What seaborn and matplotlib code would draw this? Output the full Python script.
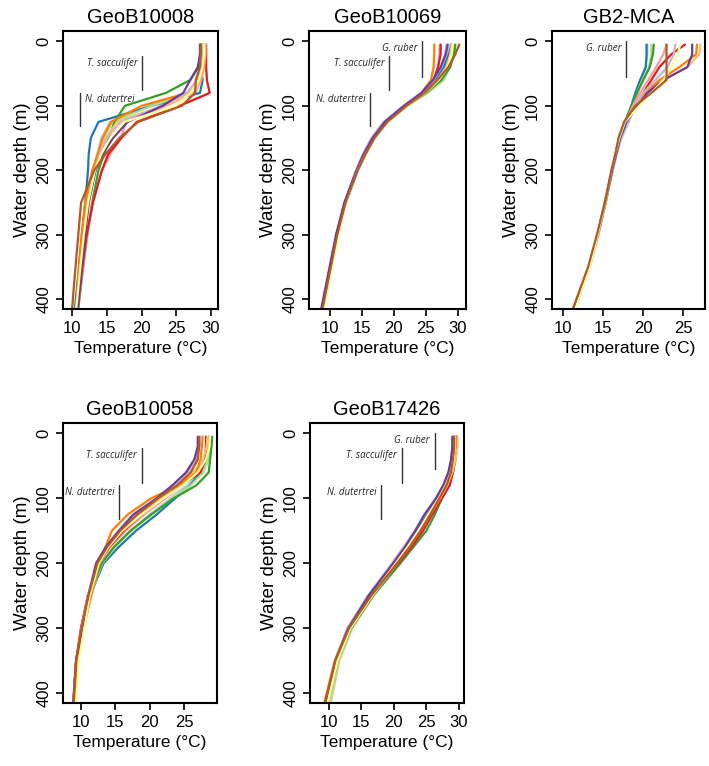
import pandas as pd
import matplotlib.pyplot as plt
import seaborn as sns

# Depth levels (m) at which the temperature profiles were read
depths = [5, 20, 40, 60, 80, 100, 125, 150, 175, 200, 250, 300, 350, 415]
months = ['Jan', 'Feb', 'Mar', 'Apr', 'May', 'Jun',
          'Jul', 'Aug', 'Sep', 'Oct', 'Nov', 'Dec']

# Monthly temperature profiles (deg C), one row per month
geob10008 = [
    [28.8, 28.8, 28.7, 28.5, 27.8, 21.0, 15.5, 14.2, 13.6, 13.0, 12.2, 11.6, 11.2, 10.6],
    [28.5, 28.5, 28.5, 28.8, 28.4, 21.5, 13.8, 12.7, 12.4, 12.3, 11.9, 11.4, 11.0, 10.4],
    [28.6, 28.6, 28.5, 28.2, 27.0, 21.5, 15.8, 14.5, 13.8, 13.2, 12.3, 11.8, 11.4, 10.8],
    [28.7, 28.6, 28.2, 27.0, 23.5, 17.6, 16.1, 15.3, 14.6, 13.8, 12.9, 12.2, 11.6, 10.9],
    [29.0, 29.0, 28.9, 28.6, 27.5, 23.5, 17.8, 17.0, 15.5, 14.3, 13.0, 12.2, 11.6, 10.8],
    [29.3, 29.3, 29.3, 29.4, 29.8, 25.5, 19.3, 17.1, 15.2, 14.3, 13.0, 12.1, 11.5, 10.8],
    [29.2, 29.2, 29.0, 28.5, 27.5, 23.0, 16.5, 14.8, 13.9, 13.2, 12.2, 11.6, 11.1, 10.6],
    [29.0, 29.0, 28.9, 28.4, 26.6, 20.0, 15.6, 14.4, 13.7, 12.9, 11.9, 11.4, 11.0, 10.6],
    [28.8, 28.8, 28.6, 28.0, 26.5, 23.0, 17.0, 15.0, 14.0, 13.3, 12.4, 11.8, 11.3, 10.7],
    [28.4, 28.4, 28.1, 27.0, 26.0, 23.0, 18.0, 15.9, 14.4, 13.4, 12.4, 11.9, 11.4, 10.8],
    [29.0, 29.0, 28.8, 28.3, 27.0, 25.0, 17.5, 15.5, 14.2, 13.3, 12.3, 11.7, 11.2, 10.6],
    [28.5, 28.5, 28.4, 27.8, 27.7, 25.8, 19.5, 16.8, 14.8, 13.2, 11.3, 10.9, 10.5, 10.0],
]
geob10069 = [
    [28.8, 28.4, 27.6, 26.4, 24.7, 22.0, 19.0, 17.0, 15.6, 14.4, 12.6, 11.3, 10.3, 9.0],
    [29.0, 28.6, 27.8, 26.4, 24.6, 21.9, 18.9, 16.9, 15.5, 14.3, 12.5, 11.2, 10.2, 8.9],
    [29.4, 29.2, 28.7, 27.8, 25.3, 22.2, 19.0, 17.0, 15.6, 14.4, 12.5, 11.3, 10.3, 9.0],
    [29.6, 29.4, 28.8, 27.4, 25.0, 22.0, 18.9, 16.9, 15.5, 14.3, 12.5, 11.2, 10.2, 8.9],
    [27.2, 27.1, 26.9, 26.2, 24.5, 21.8, 18.8, 16.8, 15.4, 14.2, 12.4, 11.2, 10.2, 8.9],
    [27.3, 27.3, 26.9, 26.2, 24.6, 21.9, 18.8, 16.8, 15.4, 14.2, 12.4, 11.2, 10.2, 8.8],
    [29.0, 28.8, 28.2, 26.8, 24.8, 22.0, 19.0, 17.0, 15.5, 14.3, 12.5, 11.2, 10.2, 9.0],
    [26.3, 26.3, 26.2, 25.8, 24.3, 21.6, 18.6, 16.7, 15.3, 14.2, 12.4, 11.1, 10.1, 8.8],
    [28.2, 28.0, 27.4, 26.2, 24.4, 21.5, 18.4, 16.5, 15.2, 14.1, 12.4, 11.1, 10.1, 8.8],
    [28.4, 28.1, 27.3, 26.1, 24.3, 21.6, 18.6, 16.7, 15.3, 14.2, 12.3, 11.0, 10.0, 8.7],
    [29.2, 29.0, 28.4, 27.0, 24.9, 22.1, 19.1, 17.1, 15.6, 14.4, 12.6, 11.4, 10.4, 9.1],
    [30.2, 29.6, 28.5, 26.8, 24.8, 22.0, 19.0, 17.0, 15.6, 14.4, 12.5, 11.2, 10.2, 8.9],
]
gb2_mca = [
    [20.5, 20.5, 20.3, 19.8, 19.3, 18.9, 18.2, 17.3, 16.7, 16.2, 15.3, 14.4, 13.3, 11.5],
    [20.4, 20.4, 20.3, 19.6, 19.0, 18.5, 17.8, 17.1, 16.6, 16.1, 15.3, 14.3, 13.2, 11.3],
    [21.0, 21.0, 20.7, 19.9, 19.2, 18.6, 17.8, 17.1, 16.6, 16.1, 15.3, 14.4, 13.3, 11.4],
    [21.3, 21.2, 20.8, 20.0, 19.2, 18.5, 17.7, 17.0, 16.6, 16.1, 15.3, 14.3, 13.2, 11.3],
    [22.9, 22.5, 21.6, 20.6, 19.6, 18.7, 17.8, 17.1, 16.6, 16.1, 15.2, 14.3, 13.2, 11.3],
    [25.2, 23.5, 22.0, 21.0, 20.0, 19.0, 17.9, 17.1, 16.6, 16.1, 15.2, 14.3, 13.2, 11.3],
    [27.1, 27.0, 25.5, 22.5, 20.5, 19.2, 17.9, 17.1, 16.6, 16.1, 15.3, 14.3, 13.3, 11.4],
    [26.7, 26.6, 24.5, 22.0, 20.2, 19.0, 17.8, 17.0, 16.5, 16.1, 15.2, 14.3, 13.2, 11.3],
    [24.0, 23.8, 23.0, 21.5, 20.0, 18.9, 17.8, 17.1, 16.6, 16.1, 15.2, 14.3, 13.2, 11.3],
    [26.1, 26.1, 25.5, 22.5, 20.5, 19.3, 17.9, 17.1, 16.6, 16.1, 15.2, 14.3, 13.2, 11.3],
    [24.6, 24.3, 23.5, 22.5, 21.0, 19.5, 17.7, 17.0, 16.5, 16.0, 15.2, 14.3, 13.3, 11.5],
    [22.9, 22.9, 22.9, 22.9, 21.0, 19.0, 17.6, 16.9, 16.5, 16.0, 15.2, 14.2, 13.1, 11.2],
]
geob10058 = [
    [28.8, 28.7, 28.3, 27.2, 25.5, 23.0, 20.0, 17.2, 15.0, 13.0, 11.2, 10.2, 9.4, 9.0],
    [28.6, 28.5, 28.2, 27.4, 25.9, 23.7, 21.0, 18.0, 15.5, 13.3, 11.3, 10.2, 9.4, 9.0],
    [29.0, 28.9, 28.6, 27.8, 26.0, 23.3, 20.3, 17.3, 15.0, 13.1, 11.3, 10.3, 9.5, 9.1],
    [29.1, 29.0, 28.8, 28.6, 26.8, 23.5, 20.2, 17.2, 14.8, 13.0, 11.2, 10.2, 9.4, 9.0],
    [28.6, 28.5, 28.0, 26.8, 24.8, 22.3, 19.2, 16.5, 14.3, 12.7, 11.0, 10.1, 9.3, 8.9],
    [28.2, 28.2, 28.0, 27.4, 24.5, 21.8, 18.8, 16.2, 14.1, 12.6, 11.0, 10.0, 9.3, 8.9],
    [28.4, 28.3, 27.8, 26.4, 24.2, 21.5, 18.0, 15.6, 13.8, 12.5, 11.3, 10.4, 9.6, 9.2],
    [27.7, 27.6, 27.4, 26.8, 24.3, 20.2, 16.8, 14.5, 13.6, 12.7, 11.5, 10.4, 9.6, 9.1],
    [27.4, 27.3, 26.8, 25.6, 23.6, 21.2, 18.0, 15.6, 13.7, 12.3, 11.0, 10.1, 9.3, 8.9],
    [27.0, 27.0, 26.5, 25.3, 23.3, 21.0, 17.6, 15.5, 13.6, 12.2, 11.1, 10.2, 9.3, 8.9],
    [28.8, 28.7, 28.2, 27.0, 24.8, 22.0, 18.8, 16.0, 14.0, 12.6, 11.3, 10.5, 9.7, 9.3],
    [27.2, 27.2, 27.0, 26.0, 24.0, 21.2, 18.2, 15.7, 13.8, 12.4, 11.1, 10.1, 9.3, 8.9],
]
geob17426 = [
    [29.3, 29.3, 29.1, 28.7, 27.9, 26.8, 25.2, 23.6, 21.9, 20.1, 16.2, 13.0, 11.1, 9.8],
    [29.2, 29.2, 29.0, 28.6, 27.8, 26.7, 25.0, 23.3, 21.7, 19.9, 16.1, 12.9, 11.0, 9.6],
    [29.6, 29.6, 29.4, 29.0, 28.3, 27.2, 25.8, 24.3, 22.6, 20.8, 16.9, 13.6, 11.6, 10.3],
    [29.7, 29.7, 29.5, 29.1, 28.4, 27.4, 26.3, 25.0, 23.0, 21.0, 16.8, 13.4, 11.3, 9.9],
    [29.5, 29.5, 29.3, 28.9, 28.3, 27.2, 25.7, 24.2, 22.5, 20.6, 16.5, 13.2, 11.2, 9.7],
    [29.6, 29.6, 29.4, 29.1, 28.6, 27.4, 25.9, 24.5, 22.7, 20.7, 16.4, 13.0, 11.0, 9.5],
    [29.8, 29.8, 29.5, 29.0, 28.2, 27.1, 25.6, 24.1, 22.4, 20.5, 16.7, 13.3, 11.3, 9.9],
    [29.5, 29.5, 29.2, 28.8, 28.0, 26.9, 25.4, 23.9, 22.1, 20.2, 16.2, 12.9, 10.9, 9.3],
    [29.1, 29.1, 28.9, 28.4, 27.6, 26.4, 24.8, 23.2, 21.5, 19.7, 16.0, 12.9, 11.0, 9.6],
    [29.0, 29.0, 28.8, 28.4, 27.6, 26.5, 24.7, 23.3, 21.7, 19.9, 16.1, 13.0, 11.0, 9.5],
    [29.4, 29.4, 29.2, 28.8, 28.0, 26.9, 25.3, 23.8, 22.1, 20.3, 16.6, 13.3, 11.3, 9.8],
    [29.3, 29.3, 29.1, 28.8, 28.1, 27.0, 25.6, 24.1, 22.4, 20.5, 16.5, 13.1, 11.0, 9.4],
]

# Calcification depth range (m) of each species and its temperature per site
species_depth = {'G. ruber': (0, 55), 'T. sacculifer': (23, 76), 'N. dutertrei': (80, 132)}
geob10008_species = {'T. sacculifer': 20.1, 'N. dutertrei': 11.2}
geob10069_species = {'G. ruber': 24.4, 'T. sacculifer': 19.3, 'N. dutertrei': 16.3}
gb2_mca_species = {'G. ruber': 17.9}
geob10058_species = {'T. sacculifer': 18.9, 'N. dutertrei': 15.6}
geob17426_species = {'G. ruber': 26.3, 'T. sacculifer': 21.2, 'N. dutertrei': 18.1}

sns.set_style('ticks')
plt.rcParams['font.family'] = ['Liberation Sans', 'DejaVu Sans']
plt.rcParams['text.color'] = 'black'
plt.rcParams['axes.labelcolor'] = 'black'
plt.rcParams['xtick.color'] = 'black'
plt.rcParams['ytick.color'] = 'black'

fig = plt.figure(figsize=(7.09, 7.66), dpi=100)
W, H = 709, 766

# name, profiles, species, axes box in pixels (x0, y0, x1, y1), xlim, xticks
panels = [
    ('GeoB10008', geob10008, geob10008_species, (63, 31, 218, 309), (8.7, 31.0), [10, 15, 20, 25, 30]),
    ('GeoB10069', geob10069, geob10069_species, (309, 31, 466, 309), (6.8, 31.25), [10, 15, 20, 25, 30]),
    ('GB2-MCA', gb2_mca, gb2_mca_species, (552, 31, 705, 309), (8.6, 27.7), [10, 15, 20, 25]),
    ('GeoB10058', geob10058, geob10058_species, (63, 423, 217, 703), (7.4, 29.8), [10, 15, 20, 25]),
    ('GeoB17426', geob17426, geob17426_species, (310, 423, 464, 703), (7.1, 30.8), [10, 15, 20, 25, 30]),
]

for name, profiles, species, box, xlim, xticks in panels:
    x0, y0, x1, y1 = box
    ax = fig.add_axes([x0 / W, 1 - y1 / H, (x1 - x0) / W, (y1 - y0) / H])

    rows = []
    for month, temps in zip(months, profiles):
        for d, t in zip(depths, temps):
            rows.append({'month': month, 'depth': d, 'temp': t})
    df = pd.DataFrame(rows)

    sns.lineplot(data=df, x='temp', y='depth', hue='month', hue_order=months,
                 palette='Paired', orient='y', estimator=None, legend=False,
                 linewidth=1.6, ax=ax)

    # species calcification depth markers
    for sp, t in species.items():
        top, bottom = species_depth[sp]
        ax.plot([t, t], [top, bottom], color='#333333', lw=1)
        if t < xlim[0] + 4:
            ax.annotate(sp, xy=(t, top), xytext=(3, -1), textcoords='offset points',
                        ha='left', va='top', fontsize=7, style='italic',
                        family=['Open Sans', 'DejaVu Sans'], color='#222222')
        else:
            ax.annotate(sp, xy=(t, top), xytext=(-3.5, -1), textcoords='offset points',
                        ha='right', va='top', fontsize=7, style='italic',
                        family=['Open Sans', 'DejaVu Sans'], color='#222222')

    ax.set_xlim(*xlim)
    ax.set_ylim(415, -16)
    ax.set_xticks(xticks)
    ax.set_yticks([0, 100, 200, 300, 400])
    ax.set_yticklabels(['0', '100', '200', '300', '400'], rotation=90, va='center')
    ax.tick_params(labelsize=12, length=5, width=1.2, direction='out')
    for s in ax.spines.values():
        s.set_linewidth(1.5)
        s.set_color('black')
    ax.set_xlabel('Temperature (°C)', fontsize=12.5)
    ax.set_ylabel('Water depth (m)', fontsize=13.5)
    ax.set_title(name, fontsize=14.5, pad=6)

plt.savefig('out.png', dpi=100)
